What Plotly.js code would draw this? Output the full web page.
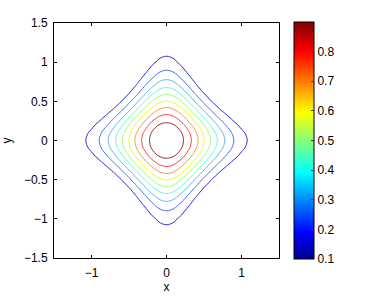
<!DOCTYPE html>
<html>
<head>
<meta charset="utf-8">
<script src="https://cdn.plot.ly/plotly-3.0.1.min.js"></script>
<style>html,body{margin:0;padding:0;background:#fff;}#chart{width:366px;height:296px;}</style>
</head>
<body>
<div id="chart"></div>
<script>
// grid coordinates
var xs = [-1.2,-1.1,-1.0,-0.9,-0.8,-0.7,-0.6,-0.5,-0.4,-0.3,-0.2,-0.1,0,0.1,0.2,0.3,0.4,0.5,0.6,0.7,0.8,0.9,1.0,1.1,1.2];
var ys = [-1.2,-1.1,-1.0,-0.9,-0.8,-0.7,-0.6,-0.5,-0.4,-0.3,-0.2,-0.1,0,0.1,0.2,0.3,0.4,0.5,0.6,0.7,0.8,0.9,1.0,1.1,1.2];

// z values, one row per |y|
var rowY00 = [0.056,0.089,0.135,0.198,0.278,0.375,0.487,0.607,0.726,0.835,0.923,0.980,1.000,0.980,0.923,0.835,0.726,0.607,0.487,0.375,0.278,0.198,0.135,0.089,0.056];
var rowY01 = [0.046,0.075,0.118,0.176,0.252,0.347,0.457,0.577,0.698,0.810,0.901,0.960,0.980,0.960,0.901,0.810,0.698,0.577,0.457,0.347,0.252,0.176,0.118,0.075,0.046];
var rowY02 = [0.026,0.046,0.077,0.124,0.189,0.274,0.378,0.497,0.621,0.738,0.836,0.901,0.923,0.901,0.836,0.738,0.621,0.497,0.378,0.274,0.189,0.124,0.077,0.046,0.026];
var rowY03 = [0.010,0.020,0.038,0.069,0.116,0.185,0.276,0.387,0.510,0.633,0.738,0.810,0.835,0.810,0.738,0.633,0.510,0.387,0.276,0.185,0.116,0.069,0.038,0.020,0.010];
var rowY04 = [0.003,0.006,0.014,0.030,0.059,0.106,0.177,0.273,0.388,0.510,0.621,0.698,0.726,0.698,0.621,0.510,0.388,0.273,0.177,0.106,0.059,0.030,0.014,0.006,0.003];
var rowY05 = [0.000,0.001,0.004,0.011,0.025,0.052,0.1003,0.174,0.273,0.387,0.497,0.577,0.607,0.577,0.497,0.387,0.273,0.174,0.1003,0.052,0.025,0.011,0.004,0.001,0.000];
var rowY06 = [0,0,0.001,0.003,0.009,0.022,0.050,0.1003,0.177,0.276,0.378,0.457,0.487,0.457,0.378,0.276,0.177,0.1003,0.050,0.022,0.009,0.003,0.001,0,0];
var rowY07 = [0,0,0,0.001,0.002,0.008,0.022,0.052,0.106,0.185,0.274,0.347,0.375,0.347,0.274,0.185,0.106,0.052,0.022,0.008,0.002,0.001,0,0,0];
var rowY08 = [0,0,0,0,0.001,0.002,0.009,0.025,0.059,0.116,0.189,0.252,0.278,0.252,0.189,0.116,0.059,0.025,0.009,0.002,0.001,0,0,0,0];
var rowY09 = [0,0,0,0,0,0.001,0.003,0.011,0.030,0.069,0.124,0.176,0.198,0.176,0.124,0.069,0.030,0.011,0.003,0.001,0,0,0,0,0];
var rowY10 = [0,0,0,0,0,0,0.001,0.004,0.014,0.038,0.077,0.118,0.135,0.118,0.077,0.038,0.014,0.004,0.001,0,0,0,0,0,0];
var rowY11 = [0,0,0,0,0,0,0,0.001,0.006,0.020,0.046,0.075,0.089,0.075,0.046,0.020,0.006,0.001,0,0,0,0,0,0,0];
var rowY12 = [0,0,0,0,0,0,0,0,0.003,0.010,0.026,0.046,0.056,0.046,0.026,0.010,0.003,0,0,0,0,0,0,0,0];

var zGrid = [rowY12,rowY11,rowY10,rowY09,rowY08,rowY07,rowY06,rowY05,rowY04,rowY03,rowY02,rowY01,rowY00,
             rowY01,rowY02,rowY03,rowY04,rowY05,rowY06,rowY07,rowY08,rowY09,rowY10,rowY11,rowY12];

var levelStart = 0.1, levelEnd = 0.9, levelStep = 0.1;
var cbTickVals = [0.1,0.2,0.3,0.4,0.5,0.6,0.7,0.8];
var cbTickText = ['0.1','0.2','0.3','0.4','0.5','0.6','0.7','0.8'];
var xTickVals = [-1,0,1];
var yTickVals = [-1.5,-1,-0.5,0,0.5,1,1.5];

var jet = [[0,'rgb(0,0,143)'],[0.111,'rgb(0,0,255)'],[0.365,'rgb(0,255,255)'],
           [0.619,'rgb(255,255,0)'],[0.873,'rgb(255,0,0)'],[1,'rgb(128,0,0)']];
var lineScale = [[0,'rgb(40,40,230)'],[0.125,'rgb(60,110,255)'],[0.25,'rgb(80,185,255)'],
                 [0.375,'rgb(90,255,220)'],[0.5,'rgb(160,255,110)'],[0.625,'rgb(245,245,40)'],
                 [0.75,'rgb(255,150,50)'],[0.875,'rgb(255,60,60)'],[1,'rgb(160,40,40)']];

var font = 'Liberation Sans, Arial, Helvetica, sans-serif';
var fs = 12;

var contourTrace = {
  type: 'contour', x: xs, y: ys, z: zGrid,
  autocontour: false,
  contours: {start: levelStart, end: levelEnd + 0.0001, size: levelStep, coloring: 'lines', showlabels: false},
  line: {width: 1, smoothing: 1},
  colorscale: lineScale, zauto: false, zmin: levelStart, zmax: levelEnd,
  showscale: false, hoverinfo: 'skip'
};

var cbTrace = {
  type: 'scatter', mode: 'markers', x: [0], y: [0], hoverinfo: 'skip', showlegend: false,
  marker: {
    size: 1, opacity: 0, color: [levelStart], colorscale: jet, cmin: levelStart, cmax: levelEnd,
    showscale: true,
    colorbar: {
      thickness: 20, thicknessmode: 'pixels', len: 237, lenmode: 'pixels',
      x: 1.0667, xanchor: 'left', xref: 'paper', y: 0.5, yanchor: 'middle', yref: 'paper',
      xpad: 0, ypad: 0, outlinewidth: 1, outlinecolor: '#000',
      tickmode: 'array', tickvals: cbTickVals, ticktext: cbTickText,
      ticks: 'inside', ticklen: 3, tickcolor: '#444',
      tickfont: {family: font, size: fs, color: '#000'}
    }
  }
};

var axisCommon = {
  range: [-1.5, 1.5], showgrid: false, zeroline: false,
  showline: true, mirror: 'ticks', linecolor: '#000', linewidth: 1,
  ticks: 'inside', ticklen: 3, tickcolor: '#000',
  tickfont: {family: font, size: fs, color: '#000'}
};

var layout = {
  width: 366, height: 296,
  margin: {l: 54, r: 87, t: 23, b: 38, pad: 0},
  paper_bgcolor: '#fff', plot_bgcolor: '#fff',
  showlegend: false,
  font: {family: font, size: fs, color: '#000'},
  xaxis: Object.assign({}, axisCommon, {
    tickmode: 'array', tickvals: xTickVals, ticklabelstandoff: 4,
    title: {text: 'x', font: {family: font, size: fs, color: '#000'}, standoff: 1}
  }),
  yaxis: Object.assign({}, axisCommon, {
    tickmode: 'array', tickvals: yTickVals, ticklabelstandoff: 3,
    title: {text: 'y', font: {family: font, size: fs, color: '#000'}, standoff: 9}
  })
};

Plotly.newPlot('chart', [contourTrace, cbTrace], layout, {displayModeBar: false, staticPlot: true});
</script>
</body>
</html>
